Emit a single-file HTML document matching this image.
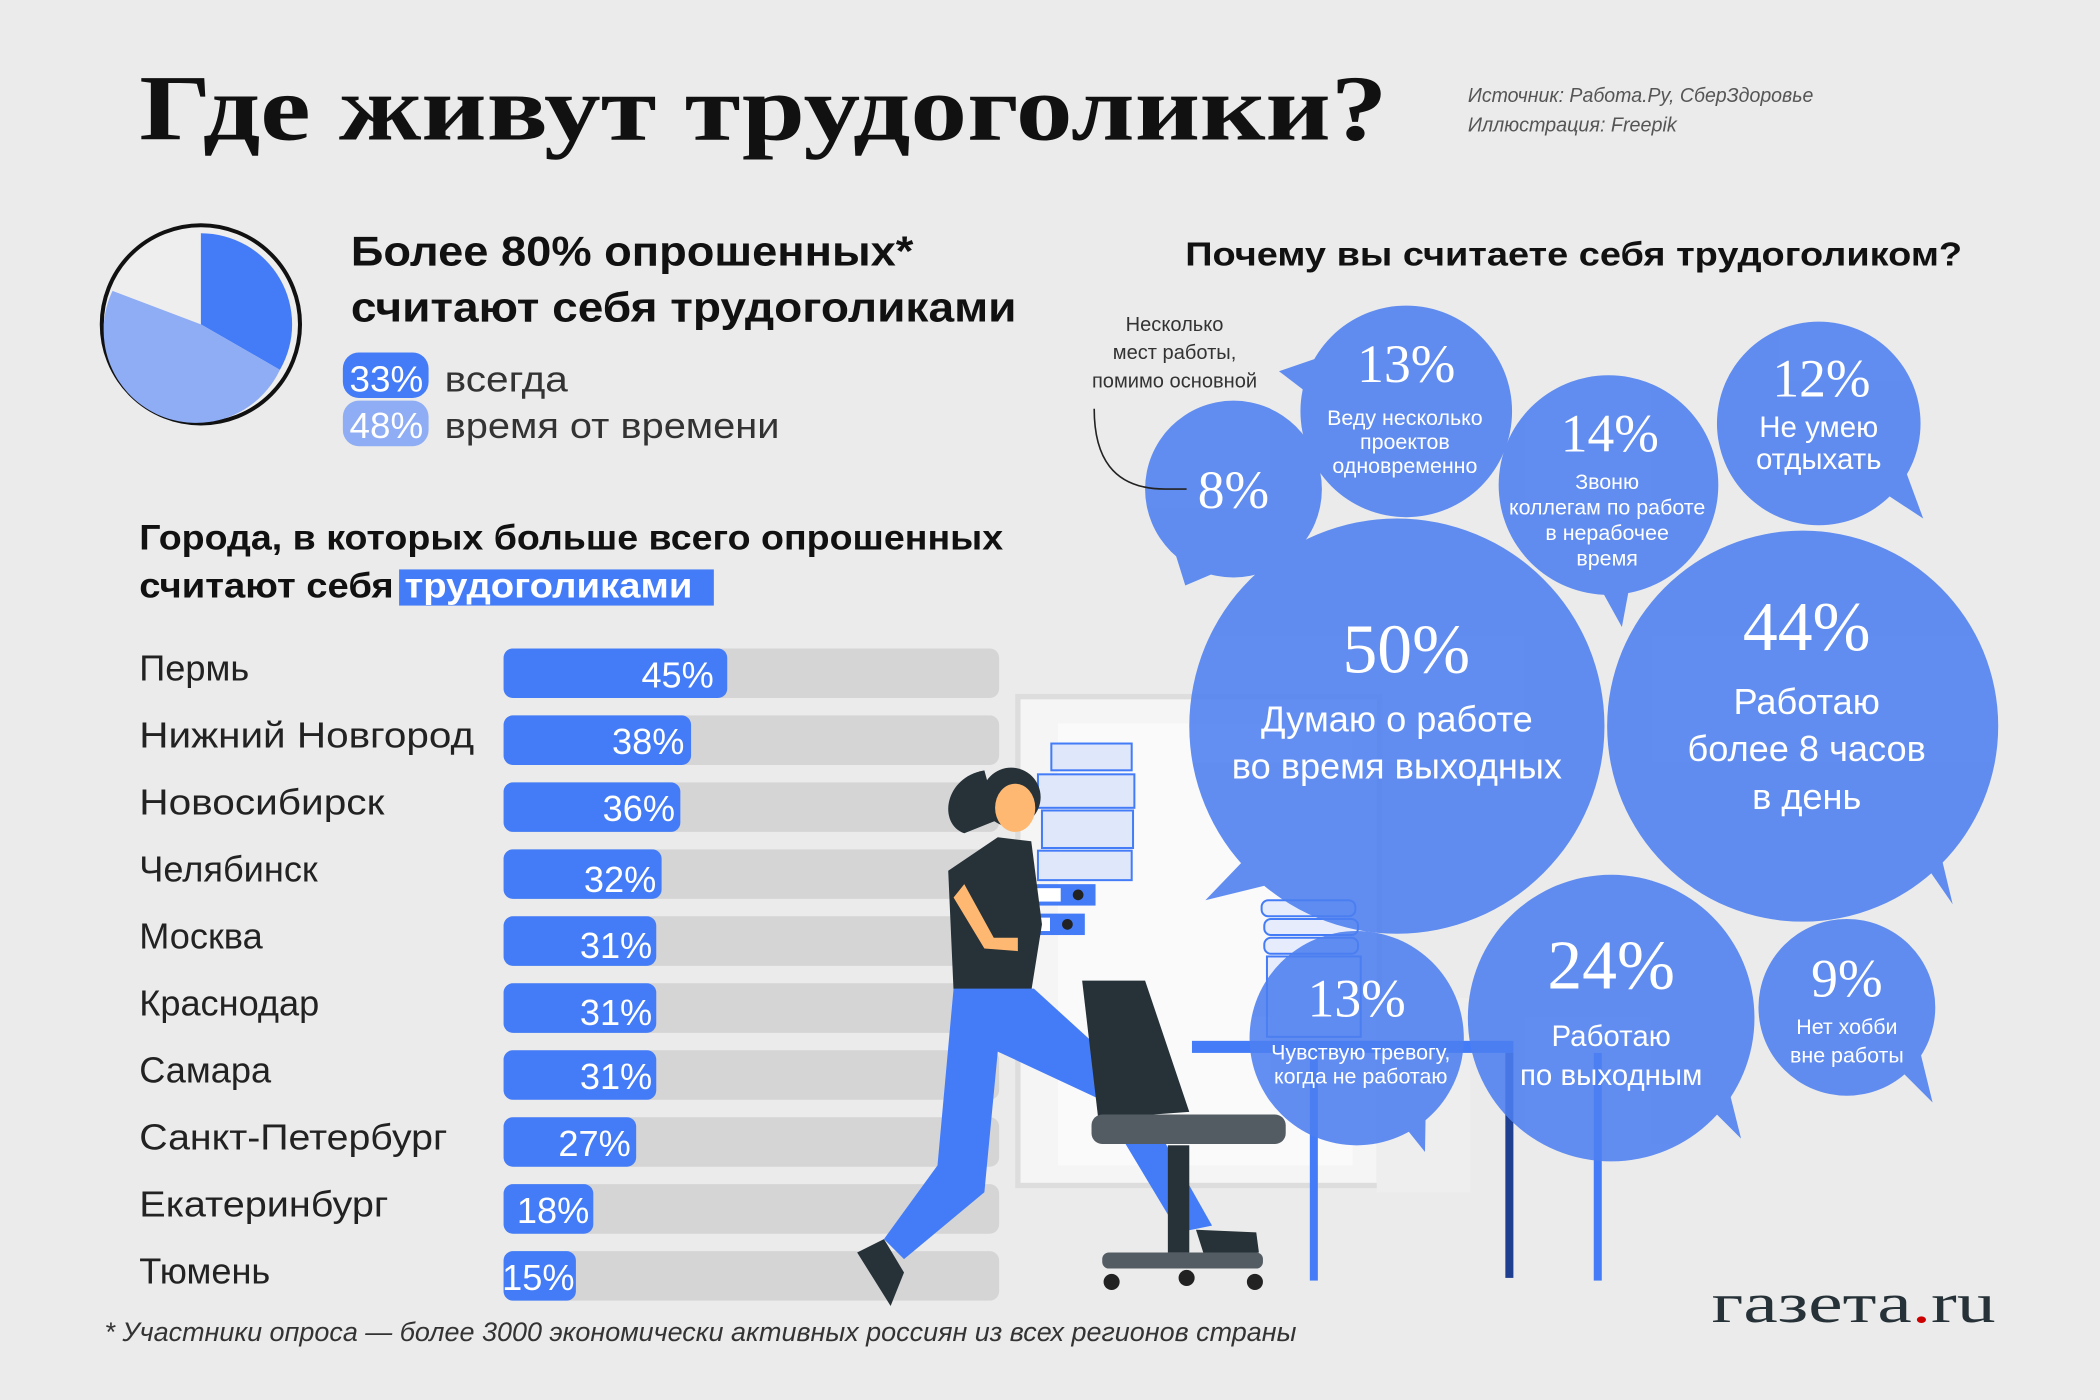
<!DOCTYPE html>
<html><head><meta charset="utf-8"><style>
html,body{margin:0;padding:0;background:#ebebeb;}
svg{display:block}
.s{font-family:"Liberation Sans","DejaVu Sans",sans-serif}
.r{font-family:"Liberation Serif","DejaVu Serif",serif}
</style></head><body>
<svg width="2100" height="1400" viewBox="0 0 1568 1045" xmlns="http://www.w3.org/2000/svg">
<rect width="1568" height="1045" fill="#ebebeb"/>
<text x="104" y="104" class="r" font-size="70" font-weight="bold" fill="#111" textLength="932" lengthAdjust="spacingAndGlyphs">Где живут трудоголики?</text>
<text x="1096" y="76" class="s" font-size="15" font-style="italic" fill="#555" textLength="258" lengthAdjust="spacingAndGlyphs">Источник: Работа.Ру, СберЗдоровье</text>
<text x="1096" y="98" class="s" font-size="15" font-style="italic" fill="#555" textLength="156" lengthAdjust="spacingAndGlyphs">Иллюстрация: Freepik</text>
<circle cx="150" cy="242" r="74" fill="#eeeeee" stroke="#111" stroke-width="3"/>
<path d="M150,242 L150,174 A68,68 0 0 1 209,276 Z" fill="#447cf7"/>
<path d="M150,242 L209,276 A68,68 0 0 1 84,217 Z" fill="#8fadf4"/>
<text x="262" y="198" class="s" font-size="31" font-weight="bold" fill="#111" textLength="420" lengthAdjust="spacingAndGlyphs">Более 80% опрошенных*</text>
<text x="262" y="240" class="s" font-size="31" font-weight="bold" fill="#111" textLength="497" lengthAdjust="spacingAndGlyphs">считают себя трудоголиками</text>
<rect x="256" y="263" width="64" height="34" rx="12" fill="#447cf7"/>
<text x="261" y="292" class="s" font-size="27" fill="#fff" textLength="55" lengthAdjust="spacingAndGlyphs">33%</text>
<text x="332" y="292" class="s" font-size="27" fill="#333" textLength="92" lengthAdjust="spacingAndGlyphs">всегда</text>
<rect x="256" y="299" width="64" height="34" rx="12" fill="#8fadf4"/>
<text x="261" y="327" class="s" font-size="27" fill="#fff" textLength="55" lengthAdjust="spacingAndGlyphs">48%</text>
<text x="332" y="327" class="s" font-size="27" fill="#333" textLength="250" lengthAdjust="spacingAndGlyphs">время от времени</text>
<text x="104" y="410" class="s" font-size="26" font-weight="bold" fill="#111" textLength="645" lengthAdjust="spacingAndGlyphs">Города, в которых больше всего опрошенных</text>
<text x="104" y="446" class="s" font-size="26" font-weight="bold" fill="#111" textLength="190" lengthAdjust="spacingAndGlyphs">считают себя</text>
<rect x="298" y="425" width="235" height="27" fill="#447cf7"/>
<text x="302" y="446" class="s" font-size="26" font-weight="bold" fill="#fff" textLength="215" lengthAdjust="spacingAndGlyphs">трудоголиками</text>
<g class="s" font-size="27">
<g fill="#d5d5d5">
<rect x="376" y="484" width="370" height="37" rx="7"/><rect x="376" y="534" width="370" height="37" rx="7"/><rect x="376" y="584" width="370" height="37" rx="7"/><rect x="376" y="634" width="370" height="37" rx="7"/><rect x="376" y="684" width="370" height="37" rx="7"/><rect x="376" y="734" width="370" height="37" rx="7"/><rect x="376" y="784" width="370" height="37" rx="7"/><rect x="376" y="834" width="370" height="37" rx="7"/><rect x="376" y="884" width="370" height="37" rx="7"/><rect x="376" y="934" width="370" height="37" rx="7"/>
</g>
<g fill="#447cf7">
<rect x="376" y="484" width="167" height="37" rx="7"/><rect x="376" y="534" width="140" height="37" rx="7"/><rect x="376" y="584" width="132" height="37" rx="7"/><rect x="376" y="634" width="118" height="37" rx="7"/><rect x="376" y="684" width="114" height="37" rx="7"/><rect x="376" y="734" width="114" height="37" rx="7"/><rect x="376" y="784" width="114" height="37" rx="7"/><rect x="376" y="834" width="99" height="37" rx="7"/><rect x="376" y="884" width="67" height="37" rx="7"/><rect x="376" y="934" width="54" height="37" rx="7"/>
</g>
<g fill="#fff" text-anchor="end">
<text x="533" y="513">45%</text><text x="511" y="563">38%</text><text x="504" y="613">36%</text><text x="490" y="666">32%</text><text x="487" y="715">31%</text><text x="487" y="765">31%</text><text x="487" y="813">31%</text><text x="471" y="863">27%</text><text x="440" y="913">18%</text><text x="429" y="963">15%</text>
</g>
<g fill="#222">
<text x="104" y="508">Пермь</text><text x="104" y="558" textLength="250" lengthAdjust="spacingAndGlyphs">Нижний Новгород</text><text x="104" y="608" textLength="183" lengthAdjust="spacingAndGlyphs">Новосибирск</text><text x="104" y="658">Челябинск</text><text x="104" y="708">Москва</text><text x="104" y="758">Краснодар</text><text x="104" y="808">Самара</text><text x="104" y="858" textLength="230" lengthAdjust="spacingAndGlyphs">Санкт-Петербург</text><text x="104" y="908" textLength="186" lengthAdjust="spacingAndGlyphs">Екатеринбург</text><text x="104" y="958">Тюмень</text>
</g>
</g>
<text x="78" y="1001" class="s" font-size="20" font-style="italic" fill="#333" textLength="890" lengthAdjust="spacingAndGlyphs">*  Участники опроса — более 3000 экономически активных россиян из всех регионов страны</text>
<rect x="760" y="520" width="270" height="365" fill="#f5f5f5" stroke="#ddd" stroke-width="4"/>
<rect x="790" y="540" width="220" height="330" fill="#fafafa"/>
<rect x="1028" y="745" width="70" height="145" fill="#eeeeee"/>
<g fill="#dfe7fb" stroke="#447cf7" stroke-width="1.5">
<rect x="785" y="555" width="60" height="20"/><rect x="775" y="578" width="72" height="25"/><rect x="778" y="605" width="68" height="28"/><rect x="775" y="635" width="70" height="22"/>
</g>
<rect x="768" y="660" width="50" height="16" fill="#447cf7"/><rect x="772" y="663" width="20" height="10" fill="#fff"/><circle cx="805" cy="668" r="4" fill="#222"/>
<rect x="760" y="682" width="50" height="16" fill="#447cf7"/><rect x="764" y="685" width="20" height="10" fill="#fff"/><circle cx="797" cy="690" r="4" fill="#222"/>
<path d="M735,575 C705,580 700,615 720,622 L745,612 Z" fill="#263238"/>
<circle cx="755" cy="595" r="22" fill="#263238"/>
<ellipse cx="758" cy="603" rx="15" ry="18" fill="#ffb872"/>
<path d="M745,625 L770,628 L778,690 L770,740 L712,740 L708,650 Z" fill="#263238"/>
<path d="M720,660 L742,700 L760,700 L760,710 L735,708 L712,670 Z" fill="#ffb872"/>
<path d="M712,738 L772,738 L840,800 L905,915 L880,920 L820,820 L745,785 L735,890 L675,940 L660,925 L700,870 Z" fill="#447cf7"/>
<path d="M640,935 L660,925 L675,950 L665,975 Z" fill="#263238"/>
<path d="M893,918 L938,920 L940,935 L900,940 Z" fill="#263238"/>
<path d="M808,732 L855,732 L888,830 L820,835 Z" fill="#263238"/>
<rect x="815" y="832" width="145" height="22" rx="8" fill="#545c63"/>
<rect x="872" y="855" width="16" height="80" fill="#263238"/>
<rect x="823" y="935" width="120" height="12" rx="5" fill="#545c63"/>
<circle cx="830" cy="957" r="6" fill="#222"/><circle cx="886" cy="954" r="6" fill="#222"/><circle cx="937" cy="957" r="6" fill="#222"/>
<rect x="890" y="777" width="240" height="9" fill="#447cf7"/>
<rect x="978" y="786" width="6" height="170" fill="#447cf7"/>
<rect x="1124" y="786" width="6" height="168" fill="#1e3f8f"/>
<rect x="1190" y="786" width="6" height="170" fill="#447cf7"/>
<g fill="#e6ecfb" stroke="#447cf7" stroke-width="1.5"><rect x="942" y="672" width="70" height="12" rx="5"/><rect x="944" y="686" width="70" height="12" rx="5"/><rect x="944" y="700" width="70" height="12" rx="5"/><rect x="946" y="714" width="70" height="60"/></g>
<g fill="#4d7ff0" opacity="0.88">
<circle cx="921" cy="365" r="66"/><path d="M875,405 L885,437 L925,420 Z"/>
<circle cx="1050" cy="307" r="79"/><path d="M990,265 L955,277 L985,300 Z"/>
<circle cx="1201" cy="362" r="82"/><path d="M1190,430 L1211,468 L1220,420 Z"/>
<circle cx="1358" cy="316" r="76"/><path d="M1395,360 L1436,387 L1415,330 Z"/>
<circle cx="1043" cy="542" r="155"/><path d="M950,620 L900,672 L990,650 Z"/>
<circle cx="1346" cy="542" r="146"/><path d="M1420,620 L1458,675 L1440,600 Z"/>
<circle cx="1013" cy="775" r="80"/><path d="M1040,830 L1064,860 L1065,800 Z"/>
<circle cx="1203" cy="760" r="107"/><path d="M1270,820 L1300,850 L1285,790 Z"/>
<circle cx="1379" cy="752" r="66"/><path d="M1410,790 L1443,823 L1430,770 Z"/>
</g>
<text x="1175" y="198" class="s" font-size="25" font-weight="bold" fill="#111" text-anchor="middle" textLength="580" lengthAdjust="spacingAndGlyphs">Почему вы считаете себя трудоголиком?</text>
<g class="s" font-size="15" fill="#333" text-anchor="middle"><text x="877" y="247">Несколько</text><text x="877" y="268">мест работы,</text><text x="877" y="289">помимо основной</text></g>
<path d="M817,305 C817,340 830,365 870,365 L886,365" fill="none" stroke="#222" stroke-width="1.2"/>
<g fill="#fff" text-anchor="middle">
<g class="r" font-size="40"><text x="921" y="379">8%</text><text x="1050" y="285">13%</text><text x="1202" y="337">14%</text><text x="1360" y="296">12%</text><text x="1013" y="759">13%</text><text x="1379" y="744">9%</text></g>
<g class="r" font-size="52"><text x="1050" y="502">50%</text><text x="1349" y="485">44%</text><text x="1203" y="738">24%</text></g>
<g class="s" font-size="16"><text x="1049" y="317">Веду несколько</text><text x="1049" y="335">проектов</text><text x="1049" y="353">одновременно</text>
<text x="1200" y="365">Звоню</text><text x="1200" y="384">коллегам по работе</text><text x="1200" y="403">в нерабочее</text><text x="1200" y="422">время</text>
<text x="1016" y="791">Чувствую тревогу,</text><text x="1016" y="809">когда не работаю</text>
<text x="1379" y="772">Нет хобби</text><text x="1379" y="793">вне работы</text></g>
<g class="s" font-size="22"><text x="1358" y="326">Не умею</text><text x="1358" y="350">отдыхать</text><text x="1203" y="781">Работаю</text><text x="1203" y="810">по выходным</text></g>
<g class="s" font-size="27"><text x="1043" y="546">Думаю о работе</text><text x="1043" y="581">во время выходных</text><text x="1349" y="533">Работаю</text><text x="1349" y="568">более 8 часов</text><text x="1349" y="604">в день</text></g>
</g>
<text x="1278" y="987" class="r" font-size="42" fill="#263238" textLength="212" lengthAdjust="spacingAndGlyphs">газета<tspan fill="#c00">.</tspan>ru</text>
</svg>
</body></html>
